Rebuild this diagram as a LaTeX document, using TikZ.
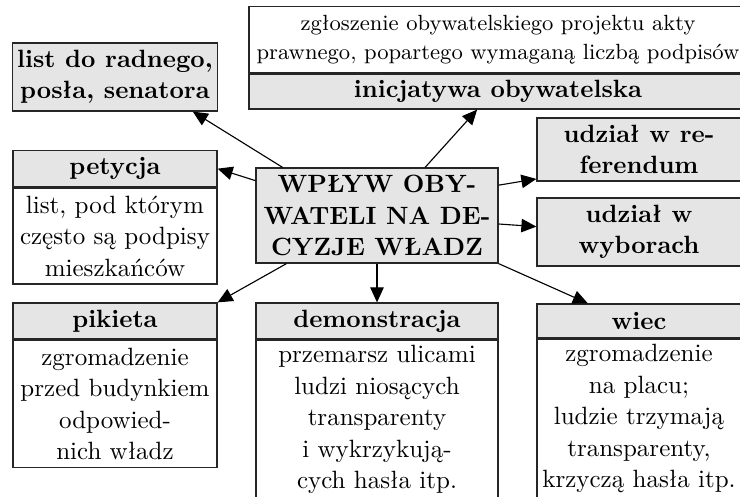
\documentclass[tikz,border=0pt]{standalone}
\usepackage{fontspec}
\usetikzlibrary{arrows.meta}

\begin{document}
\begin{tikzpicture}[x=0.4pt, y=-0.4pt, every node/.style={draw=black!85, line width=0.5pt, align=center, inner sep=2pt, font=\fontsize{10}{12.6}\selectfont},
	head/.style={fill=gray!20, font=\bfseries\fontsize{10}{12.6}\selectfont, minimum width=81.6pt, minimum height=14.4pt},
	txt/.style={fill=white, anchor=north, minimum width=81.6pt},
	link/.style={-{Triangle[length=6pt, width=5.4pt]}, line width=0.45pt}]
	\useasboundingbox (0,0) rectangle (740,497);
	\clip (0,0) rectangle (740,497);
	\node[head, minimum height=27.2pt] (lst) at (115,77) {list do radnego,\\posła, senatora};
	\node[head, minimum width=199.2pt, minimum height=14pt] (ini) at (498,91.5) {inicjatywa obywatelska};
	\node[txt, anchor=south, minimum width=199.2pt, minimum height=26.6pt, font=\fontsize{8.8}{11.6}\selectfont] (iniT) at (ini.north) {zgłoszenie obywatelskiego projektu akty\\prawnego, popartego wymaganą liczbą podpisów};
	\node[head] (pet) at (115,168.7) {petycja};
	\node[txt, minimum height=38.4pt] (petT) at (pet.south) {list, pod którym\\często są podpisy\\mieszkańców};
	\node[head, minimum width=96.8pt, minimum height=38pt] (wplyw) at (377,215.5) {WPŁYW OBY-\\WATELI NA DE-\\CYZJE WŁADZ};
	\node[head, minimum height=25.2pt] (ref) at (639,149.5) {udział w re-\\ferendum};
	\node[head, minimum height=27.2pt] (wyb) at (639,232) {udział w\\wyborach};
	\node[head] (pik) at (115,321) {pikieta};
	\node[txt, minimum height=50.8pt] (pikT) at (pik.south) {zgromadzenie\\przed budynkiem\\odpowied-\\nich władz};
	\node[head, minimum width=96.8pt] (dem) at (377,321) {demonstracja};
	\node[txt, minimum width=96.8pt, text depth=8pt] (demT) at (dem.south) {przemarsz ulicami\\ludzi niosących\\transparenty\\i wykrzykują-\\cych hasła itp.};
	\node[head, minimum height=13.6pt] (wie) at (639,321) {wiec};
	\node[txt, text depth=8pt] (wieT) at (wie.south) {zgromadzenie\\na placu;\\ludzie trzymają\\transparenty,\\krzyczą hasła itp.};
	\draw[link] (wplyw.153) -- (lst.-24);
	\draw[link] (wplyw.45) -- (ini.-139);
	\draw[link] (wplyw.164) -- (pet.east);
	\draw[link] (wplyw.14) -- (ref.196);
	\draw[link] (wplyw.-4) -- (wyb.177);
	\draw[link] (wplyw.-152) -- (pik.north east);
	\draw[link] (wplyw.south) -- (dem.north);
	\draw[link] (wplyw.south east) -- (wie.161);
\end{tikzpicture}
\end{document}
